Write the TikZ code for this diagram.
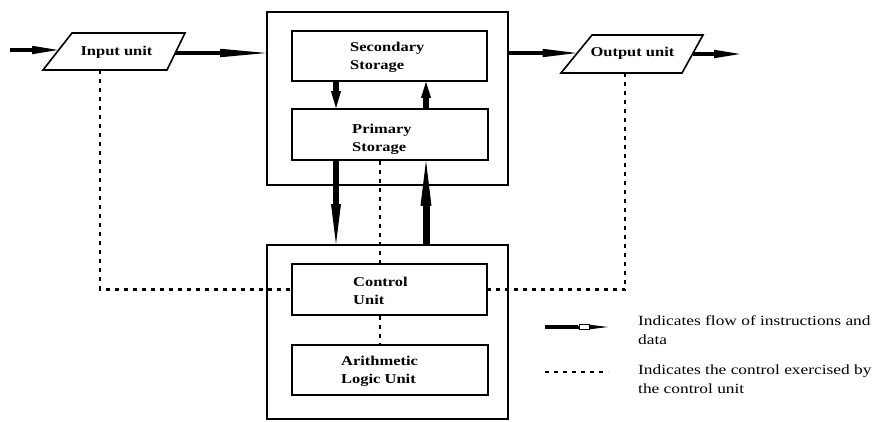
\documentclass[tikz,border=0pt]{standalone}
\usepackage{fontspec}
\setmainfont{Liberation Serif}
\newfontfamily\labelfont[FakeStretch=1.22]{Liberation Serif}
\newfontfamily\notefont[FakeStretch=1.24]{Liberation Serif}
\usetikzlibrary{calc}

\tikzset{
  unitbox/.style={draw, line width=1.6pt, inner sep=0pt},
  iobox/.style={draw, line width=1.6pt, line join=miter},
  lbl/.style={font=\labelfont\bfseries\fontsize{13.5}{18}\selectfont, align=left, anchor=west, inner sep=0pt},
  iolbl/.style={font=\labelfont\bfseries\fontsize{13.5}{18}\selectfont, anchor=base, inner sep=0pt},
  note/.style={font=\notefont\fontsize{14}{19}\selectfont, align=left, anchor=north west, inner sep=0pt},
  ctrl/.style={line width=2.4pt, dash pattern=on 4pt off 5pt},
}

% thick flow arrow: from, to, head length, shaft width, head width
\newcommand\flowarr[5]{%
  \coordinate (fabase) at ($(#2)!#3!(#1)$);
  \draw[line width=#4] (#1) -- (fabase);
  \fill ($(fabase)!#5/2!90:(#2)$) -- (#2) -- ($(fabase)!#5/2!-90:(#2)$) -- cycle;
}

\begin{document}
\begin{tikzpicture}[x=1pt,y=-1pt]
\useasboundingbox (0,0) rectangle (879,421);

% main memory block and CPU block
\node[unitbox, minimum width=241pt, minimum height=173pt] (upper) at (387.5,98.5) {};
\node[unitbox, minimum width=241pt, minimum height=174pt] (lower) at (387.5,332) {};

% inner units
\node[unitbox, minimum width=195pt, minimum height=50pt] (sec) at (389.5,56) {};
\node[unitbox, minimum width=196pt, minimum height=51pt] (pri) at (390,134.5) {};
\node[unitbox, minimum width=195pt, minimum height=51pt] (cu)  at (389.5,289.5) {};
\node[unitbox, minimum width=196pt, minimum height=50pt] (alu) at (390,370) {};

\node[lbl] (secT) at (350,57)  {Secondary\\Storage};
\node[lbl] (priT) at (352,139) {Primary\\Storage};
\node[lbl] (cuT)  at (353,291) {Control\\Unit};
\node[lbl] (aluT) at (341,371) {Arithmetic\\Logic Unit};

% input and output parallelograms
\coordinate (inTL) at (72,33);  \coordinate (inTR) at (185,33);
\coordinate (inBR) at (167,70); \coordinate (inBL) at (43,70);
\draw[iobox] (inTL) -- (inTR) -- (inBR) -- (inBL) -- cycle;
\node[iolbl] (inT) at (116.5,55) {Input unit};

\coordinate (outTL) at (592,35);  \coordinate (outTR) at (703,35);
\coordinate (outBR) at (682,73);  \coordinate (outBL) at (561,73);
\draw[iobox] (outTL) -- (outTR) -- (outBR) -- (outBL) -- cycle;
\node[iolbl] (outT) at (632.5,56.5) {Output unit};

% connector anchors
\coordinate (src)   at (10,50);
\coordinate (inL)   at (58,50);
\coordinate (inR)   at (175,53);
\coordinate (outL)  at (576.5,53);
\coordinate (outR)  at (692.5,54);
\coordinate (sink)  at (740,54);
\coordinate (inB)   at (100,70);
\coordinate (outB)  at (625,73);
\coordinate (xa) at (336,0);
\coordinate (xb) at (426,0);
\coordinate (xc) at (380,0);

% data and instruction flow
\flowarr{src}{inL}{26pt}{4.5pt}{8.5pt}
\coordinate (upW) at (inR -| upper.west);
\flowarr{inR}{upW}{46pt}{4.5pt}{8.5pt}
\coordinate (upE) at (outL -| upper.east);
\flowarr{upE}{outL}{34pt}{4.5pt}{8.5pt}
\flowarr{outR}{sink}{26pt}{4.5pt}{8.5pt}

\coordinate (sa) at (sec.south -| xa); \coordinate (pa) at (pri.north -| xa);
\flowarr{sa}{pa}{17pt}{6pt}{10pt}
\coordinate (pb) at (pri.north -| xb); \coordinate (sb) at (sec.south -| xb);
\flowarr{pb}{sb}{16pt}{6pt}{10pt}
\coordinate (pa2) at (pri.south -| xa); \coordinate (la) at (lower.north -| xa);
\flowarr{pa2}{la}{40pt}{6pt}{10pt}
\coordinate (lb) at (lower.north -| xb); \coordinate (pb2) at (pri.south -| xb);
\flowarr{lb}{pb2}{45pt}{7pt}{11pt}

% control signals
\draw[ctrl] (inB) |- (cu.west);
\draw[ctrl] (outB) |- (cu.east);
\draw[ctrl] (pri.south -| xc) -- (cu.north -| xc);
\draw[ctrl] (cu.south -| xc) -- (alu.north -| xc);

% legend
\coordinate (lgA) at (545,327);
\coordinate (lgM) at (578,327);
\coordinate (lgB) at (608,327);
\draw[line width=4.5pt] (lgA) -- (lgM);
\flowarr{lgM}{lgB}{20pt}{3pt}{5pt}
\node[draw, fill=white, line width=0.8pt, minimum width=10pt, minimum height=5.5pt, inner sep=0pt] (lgBox) at (584,327) {};
\node[note] (lgT1) at (638,315) {Indicates flow of instructions and\\data};

\coordinate (lgC) at (545,372);
\coordinate (lgD) at (608,372);
\draw[ctrl] (lgC) -- (lgD);
\node[note] (lgT2) at (638,365) {Indicates the control exercised by\\the control unit};
\end{tikzpicture}
\end{document}
